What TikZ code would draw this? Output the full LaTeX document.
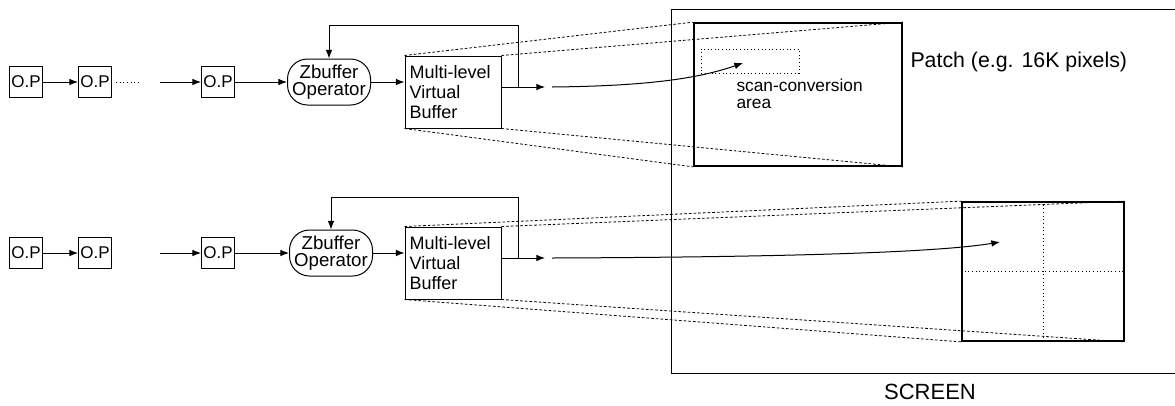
\documentclass[tikz,border=0pt]{standalone}
\usepackage{fontspec}
\setmainfont{Liberation Sans}
\usetikzlibrary{arrows.meta}
\begin{document}
\begin{tikzpicture}[x=0.75pt,y=-0.75pt,
  line width=0.75pt,
  arr/.style={-{Latex[length=6.5pt,width=5pt]}},
  opbox/.style={draw, minimum width=24.75pt, minimum height=23.25pt, inner sep=0pt, font=\fontsize{12.75}{14}\selectfont},
  zbox/.style={draw, rounded corners=15pt, minimum width=62.25pt, minimum height=34.5pt, inner sep=0pt, align=center, font=\fontsize{14}{12.75}\selectfont},
  mvbbox/.style={draw, text width=65pt, inner xsep=3.5pt, minimum height=54pt, align=left, font=\fontsize{13.5}{15}\selectfont},
  proj/.style={dash pattern=on 2pt off 1.5pt, line width=0.6pt},
  patchbox/.style={draw, line width=1.3pt, inner sep=0pt},
  gridline/.style={dotted, line width=0.75pt},
  ]
\useasboundingbox (0,0) rectangle (1175,405);

% screen
\draw (1175,9) -- (671,9) -- (671,373) -- (1175,373);
\node[font=\fontsize{16.5}{18}\selectfont] (scr) at (930,392) {SCREEN};

% ---------- top row ----------
\node[opbox] (a1) at (26,82) {O.P};
\node[opbox] (a2) at (95,82) {O.P};
\node[opbox] (a3) at (218,82) {O.P};
\node[zbox] (az) at (329,82) {Zbuffer\\Operator};
\node[mvbbox] (am) at (453,92) {Multi-level\\Virtual\\Buffer};
\coordinate (ad1) at (116,82);
\coordinate (ad2) at (141,82);
\coordinate (ain) at (160,82);
\coordinate (aout) at (545,87);
\coordinate (afb) at (518,87);
\coordinate (afbt) at (518,25);
\coordinate (acs) at (552,87);
\coordinate (aend) at (743,63);
\draw[arr] (a1) -- (a2);
\draw[dotted] (ad1) -- (ad2);
\draw[arr] (ain) -- (a3);
\draw[arr] (a3) -- (az);
\draw[arr] (az) -- (am.west |- az);
\draw[arr] (am.east |- aout) -- (aout);
\draw[arr] (afb) -- (afbt) -| (az.north);

\node[patchbox, minimum width=156pt, minimum height=107.25pt] (p1) at (798,94.5) {};
\node[draw, dotted, line width=0.7pt, minimum width=73.5pt, minimum height=18pt, inner sep=0pt] (sc) at (750,61) {};
\node[anchor=north west, align=left, inner sep=0pt, font=\fontsize{13}{12.75}\selectfont] (sct) at (736,78) {scan-conversion\\area};
\node[anchor=west, inner sep=0pt, font=\fontsize{16}{18}\selectfont] (pl) at (910,62) {Patch (e.g. 16K pixels)};
\draw[arr] (acs) .. controls (650,86) and (700,78) .. (aend);
\draw[proj] (am.north west) -- (p1.north west);
\draw[proj] (am.north east) -- (p1.north east);
\draw[proj] (am.south west) -- (p1.south west);
\draw[proj] (am.south east) -- (p1.south east);

% ---------- bottom row ----------
\node[opbox] (b1) at (26,253) {O.P};
\node[opbox] (b2) at (95,253) {O.P};
\node[opbox] (b3) at (218,253) {O.P};
\node[zbox] (bz) at (331,253) {Zbuffer\\Operator};
\node[mvbbox] (bm) at (453,263) {Multi-level\\Virtual\\Buffer};
\coordinate (bin) at (160,253);
\coordinate (bout) at (545,258);
\coordinate (bfb) at (518,258);
\coordinate (bfbt) at (518,197);
\coordinate (bcs) at (552,258);
\coordinate (bend) at (1000,242);
\draw[arr] (b1) -- (b2);
\draw[arr] (bin) -- (b3);
\draw[arr] (b3) -- (bz);
\draw[arr] (bz) -- (bm.west |- bz);
\draw[arr] (bm.east |- bout) -- (bout);
\draw[arr] (bfb) -- (bfbt) -| (bz.north);

\node[patchbox, minimum width=121.5pt, minimum height=104.25pt] (p2) at (1043,271.5) {};
\draw[gridline] (p2.north) -- (p2.south);
\draw[gridline] (p2.west) -- (p2.east);
\draw[arr] (bcs) .. controls (800,257) and (940,252) .. (bend);
\draw[proj] (bm.north west) -- (p2.north west);
\draw[proj] (bm.north east) -- (p2.north east);
\draw[proj] (bm.south west) -- (p2.south west);
\draw[proj] (bm.south east) -- (p2.south east);
\end{tikzpicture}
\end{document}
